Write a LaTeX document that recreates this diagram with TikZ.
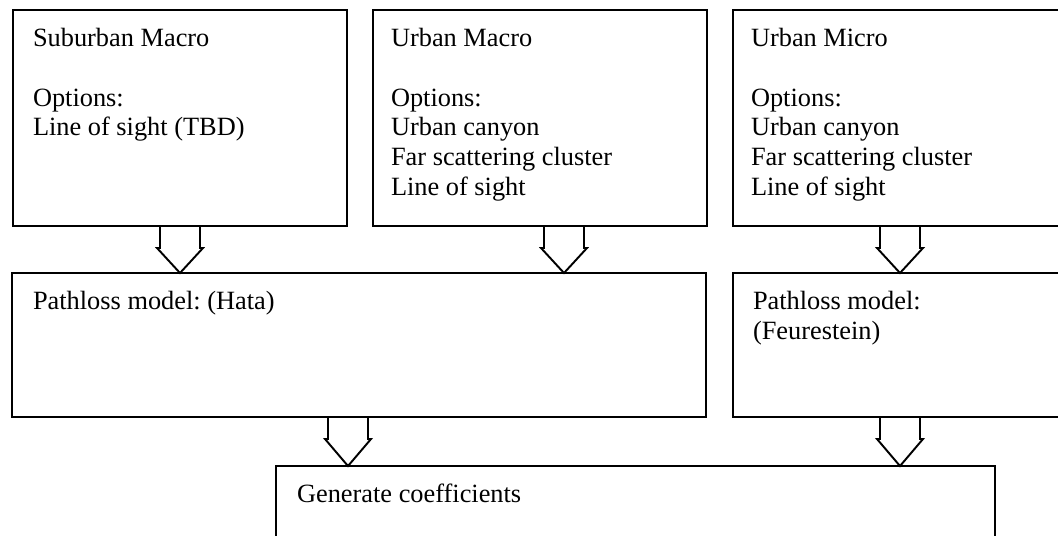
\documentclass[tikz,border=0pt]{standalone}
\usepackage{fontspec}
\setmainfont{Liberation Serif}
\usetikzlibrary{positioning,calc}
\frenchspacing
\newcommand{\blockarrow}[2]{%
  \draw[flow] ($(#1)+(-20,0)$) -- ++(0,22) -- ++(-3,0) -- (#2.north -| #1)
    -- ($(#1)+(23,22)$) -- ++(-3,0) -- ++(0,-22);}

\begin{document}
\begin{tikzpicture}[x=0.02cm,y=-0.02cm,
  box/.style={draw,line width=1.1pt,inner sep=0pt,outer sep=0pt,minimum width=6.68cm,minimum height=4.32cm},
  txt/.style={inner sep=0pt,outer sep=0pt,align=left,font=\fontsize{15}{17}\selectfont},
  flow/.style={draw,line width=1.1pt,line join=miter}]
\useasboundingbox (0,0) rectangle (1058,535);
\clip (0,0) rectangle (1058,535);
\node[box] (sub) at (180,118) {};
\node[box] (um) at (540,118) {};
\node[box] (umi) at (900,118) {};
\node[box,minimum width=13.88cm,minimum height=2.88cm] (hata) at (359,345) {};
\node[box,minimum height=2.88cm] (feur) at (900,345) {};
\node[box,minimum width=14.38cm,minimum height=2.88cm] (gen) at (635.5,538) {};
\node[txt,below right=0.36cm and 0.4cm of sub.north west] (subT) {Suburban Macro\\[17pt]Options:\\Line of sight (TBD)};
\node[txt,below right=0.36cm and 0.36cm of um.north west] (umT) {Urban Macro\\[17pt]Options:\\Urban canyon\\Far scattering cluster\\Line of sight};
\node[txt,below right=0.36cm and 0.36cm of umi.north west] (umiT) {Urban Micro\\[17pt]Options:\\Urban canyon\\Far scattering cluster\\Line of sight};
\node[txt,below right=0.36cm and 0.42cm of hata.north west] (hataT) {Pathloss model: (Hata)};
\node[txt,below right=0.36cm and 0.4cm of feur.north west] (feurT) {Pathloss model:\\(Feurestein)};
\node[txt,below right=0.36cm and 0.42cm of gen.north west] (genT) {Generate coefficients};
\coordinate (a1) at (sub.south);
\coordinate (a2) at ($(um.south)+(24,0)$);
\coordinate (a3) at (umi.south);
\coordinate (a4) at ($(hata.south)+(-11,0)$);
\coordinate (a5) at (feur.south);
\blockarrow{a1}{hata}
\blockarrow{a2}{hata}
\blockarrow{a3}{feur}
\blockarrow{a4}{gen}
\blockarrow{a5}{gen}
\end{tikzpicture}
\end{document}
